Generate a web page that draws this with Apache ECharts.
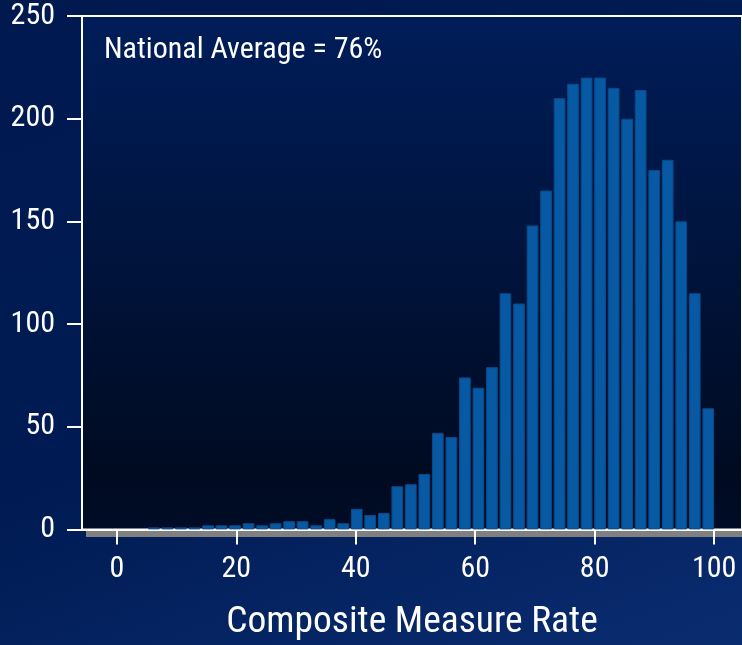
<!DOCTYPE html>
<html>
<head>
<meta charset="utf-8">
<script src="https://cdn.jsdelivr.net/npm/echarts@6/dist/echarts.min.js"></script>
<style>
  html, body { margin: 0; padding: 0; }
  body { width: 742px; height: 645px; overflow: hidden;
         background: linear-gradient(160deg, #001a50 0%, #001b53 55%, #0a2c70 100%); }
  #chart { width: 742px; height: 645px; }
</style>
</head>
<body>
<div id="chart"></div>
<script>
// Bin centers (Composite Measure Rate)
const binCenters = [6.20, 8.46, 10.73, 12.99, 15.26, 17.52, 19.78, 22.05, 24.31, 26.58,
                    28.84, 31.10, 33.37, 35.63, 37.90, 40.16, 42.42, 44.69, 46.95, 49.22,
                    51.48, 53.74, 56.01, 58.27, 60.54, 62.80, 65.06, 67.33, 69.59, 71.86,
                    74.12, 76.38, 78.65, 80.91, 83.18, 85.44, 87.70, 89.97, 92.23, 94.50,
                    96.76, 99.02];
// Counts per bin
const counts = [1, 1, 1, 1, 2, 2, 2, 3, 2, 3,
                4, 4, 2, 5, 3, 10, 7, 8, 21, 22,
                27, 47, 45, 74, 69, 79, 115, 110, 148, 165,
                210, 217, 220, 220, 215, 200, 214, 175, 180, 150,
                115, 59];
const xTicks = [0, 20, 40, 60, 80, 100];
const yTicks = [0, 50, 100, 150, 200, 250];
const annotation = 'National Average = 76%';
const xTitle = 'Composite Measure Rate';

const FONT = '"Roboto Condensed", "Liberation Sans Narrow", "Arial Narrow", sans-serif';

const chart = echarts.init(document.getElementById('chart'), null, { renderer: 'canvas' });
chart.setOption({
  backgroundColor: 'transparent',
  animation: false,
  grid: {
    left: 82, right: -3, top: 16, bottom: 115.6,
    show: true,
    borderColor: '#ffffff', borderWidth: 2,
    backgroundColor: new echarts.graphic.LinearGradient(0, 0, 0, 1, [
      { offset: 0, color: '#001d5a' },
      { offset: 0.5, color: '#00133a' },
      { offset: 0.88, color: '#000b22' },
      { offset: 1, color: '#000c25' }
    ])
  },
  xAxis: {
    type: 'value',
    min: -5.84, max: 104.67,
    axisLine: { show: true, onZero: false, lineStyle: { color: '#ffffff', width: 2 } },
    axisTick: { show: true, customValues: xTicks, length: 15, lineStyle: { color: '#ffffff', width: 2 } },
    axisLabel: { customValues: xTicks, color: '#ffffff', fontFamily: FONT, fontSize: 30, margin: 25 },
    splitLine: { show: false }
  },
  yAxis: {
    type: 'value',
    min: 0, max: 250, interval: 50,
    axisLine: { show: true, onZero: false, lineStyle: { color: '#ffffff', width: 2 } },
    axisTick: { show: true, length: 15, lineStyle: { color: '#ffffff', width: 2 } },
    axisLabel: { color: '#ffffff', fontFamily: FONT, fontSize: 30, margin: 27,
                 customValues: yTicks },
    splitLine: { show: false }
  },
  graphic: [
    { type: 'rect', z: -1, shape: { x: 86, y: 531, width: 660, height: 6 },
      style: { fill: '#808080' } },
    { type: 'text', z: 10, x: 104, y: 50,
      style: { text: annotation, fill: '#ffffff', font: '30px ' + FONT,
               textVerticalAlign: 'middle' } },
    { type: 'text', z: 10, x: 412, y: 623,
      style: { text: xTitle, fill: '#ffffff', font: '37.5px ' + FONT,
               textAlign: 'center', textVerticalAlign: 'middle' } }
  ],
  series: [{
    type: 'bar',
    data: binCenters.map((c, i) => [c, counts[i]]),
    barWidth: 11.7,
    itemStyle: { color: '#0659a2', borderColor: '#0a4a88', borderWidth: 1 }
  }]
});
</script>
</body>
</html>
